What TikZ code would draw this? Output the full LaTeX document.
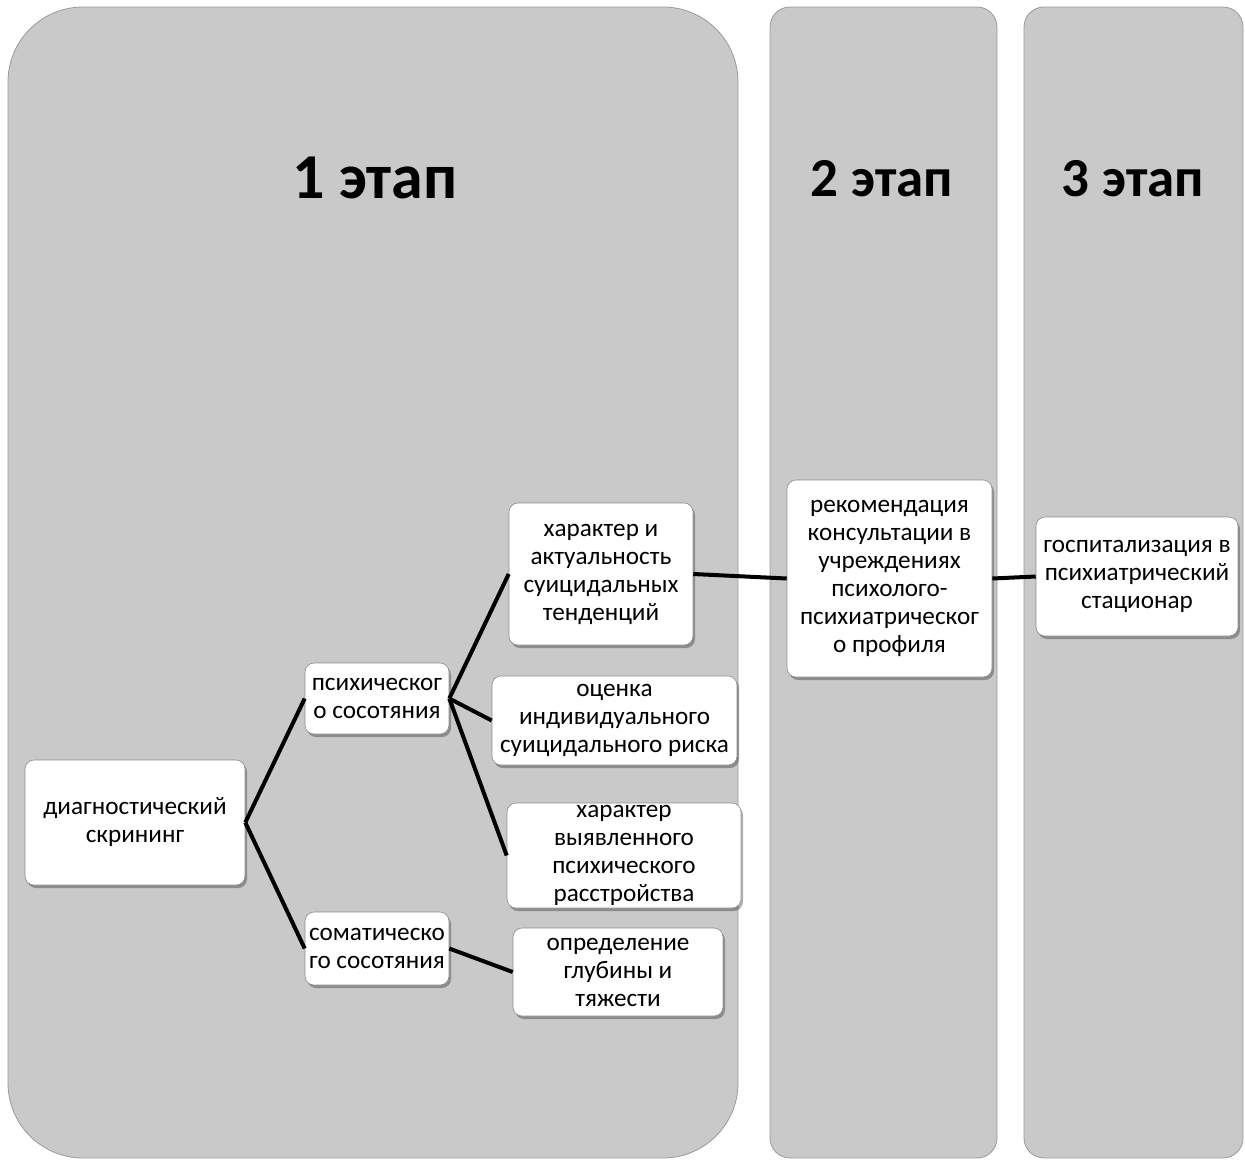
\documentclass[tikz,border=0pt]{standalone}
\usepackage{fontspec}
\setmainfont{Carlito}
\usetikzlibrary{shadows}
\definecolor{panelgray}{HTML}{C9C9C9}
\definecolor{panelborder}{HTML}{9A9A9A}
\definecolor{boxborder}{HTML}{8C8C8C}
\begin{document}
\begin{tikzpicture}[x=1pt,y=-1pt,
  panel/.style={fill=panelgray, draw=panelborder, line width=0.8pt},
  box/.style={fill=white, rounded corners=9pt, draw=boxborder, line width=0.6pt,
    inner sep=0pt, align=center, font=\fontsize{25.2}{28}\selectfont,
    drop shadow={shadow xshift=2pt, shadow yshift=-3pt, fill=black, opacity=0.3}},
  link/.style={line width=4pt, black},
  title/.style={font=\fontsize{55}{60}\selectfont\bfseries},
  bigtitle/.style={font=\fontsize{64}{66}\selectfont\bfseries}]
\useasboundingbox (0,0) rectangle (1245,1160);
\fill[white] (0,0) rectangle (1245,1160);
% panels
\draw[panel, rounded corners=75pt] (8,7) rectangle (738,1158);
\draw[panel, rounded corners=20pt] (770,7) rectangle (997,1158);
\draw[panel, rounded corners=20pt] (1024,7) rectangle (1243,1158);
\node[bigtitle] (t1) at (375,178) {1 этап};
\node[title] (t2) at (882,179) {2 этап};
\node[title] (t3) at (1133,179) {3 этап};
% boxes
\node[box, minimum width=220pt, minimum height=125pt] (diag) at (135,822.5) {диагностический\\скрининг};
\node[box, minimum width=144pt, minimum height=71pt] (psych) at (377,698.5) {психическог\\о сосотяния};
\node[box, minimum width=144pt, minimum height=73pt] (somat) at (377,948.5) {соматическо\\го сосотяния};
\node[box, minimum width=184pt, minimum height=142pt] (char1) at (601,574) {характер и\\актуальность\\суицидальных\\тенденций};
\node[box, minimum width=245pt, minimum height=89pt] (ocenka) at (614.5,720.5) {оценка\\индивидуального\\суицидального риска};
\node[box, minimum width=234pt, minimum height=105pt] (char2) at (624,855.5) {характер\\выявленного\\психического\\расстройства};
\node[box, minimum width=210pt, minimum height=88pt] (opred) at (618,972) {определение\\глубины и\\тяжести};
\node[box, minimum width=205pt, minimum height=197pt] (rekom) at (889.5,578.5) {рекомендация\\консультации в\\учреждениях\\психолого-\\психиатрическог\\о профиля};
\node[box, minimum width=202pt, minimum height=119pt] (gosp) at (1137,576.5) {госпитализация в\\психиатрический\\стационар};
% links
\draw[link] (diag.east) -- (psych.west);
\draw[link] (diag.east) -- (somat.west);
\draw[link] (psych.east) -- (char1.west);
\draw[link] (psych.east) -- (ocenka.west);
\draw[link] (psych.east) -- (char2.west);
\draw[link] (somat.east) -- (opred.west);
\draw[link] (char1.east) -- (rekom.west);
\draw[link] (rekom.east) -- (gosp.west);
\end{tikzpicture}
\end{document}
